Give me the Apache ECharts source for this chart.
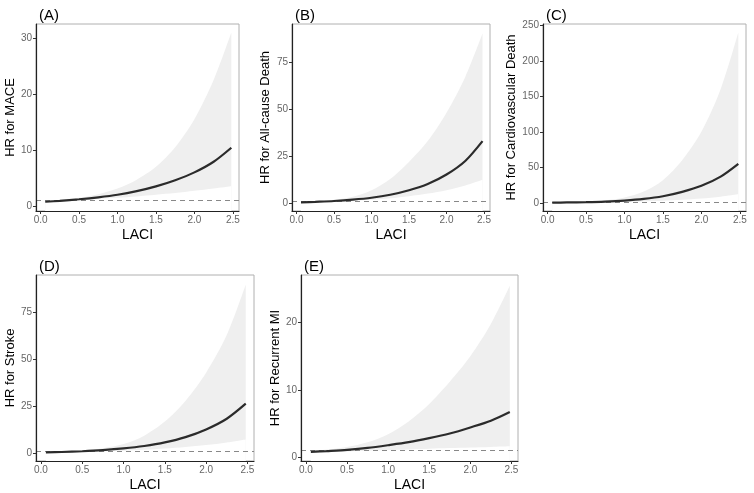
<!DOCTYPE html>
<html>
<head>
<meta charset="utf-8">
<script src="https://cdn.jsdelivr.net/npm/echarts@6/dist/echarts.min.js"></script>
<style>
  html, body { margin: 0; padding: 0; background: #fff; }
  #main { width: 754px; height: 493px; }
</style>
</head>
<body>
<div id="main"></div>
<script>
var laci = [0.06, 0.25, 0.5, 0.75, 1.0, 1.25, 1.5, 1.75, 2.0, 2.25, 2.48];
var xTicks = [0, 0.5, 1.0, 1.5, 2.0, 2.5];

// (A) MACE
var maceHR    = [0.75, 0.92, 1.2, 1.55, 2.0, 2.65, 3.5, 4.6, 6.0, 7.9, 10.4];
var maceLower = [0.6, 0.78, 1.02, 1.25, 1.45, 1.7, 2.0, 2.3, 2.7, 3.1, 3.5];
var maceUpper = [0.95, 1.1, 1.45, 2.1, 3.1, 4.7, 7.0, 10.5, 15.5, 22.5, 31];
var maceTicks = [0, 10, 20, 30];

// (B) All-cause death
var deathHR    = [0.55, 0.85, 1.3, 2.0, 3.0, 4.6, 7.0, 10.3, 15.3, 22.5, 33];
var deathLower = [0.35, 0.55, 0.9, 1.3, 1.9, 2.7, 3.8, 5.2, 7.0, 9.5, 12.5];
var deathUpper = [0.8, 1.2, 1.9, 3.5, 7, 13, 22, 33, 48, 67, 90];
var deathTicks = [0, 25, 50, 75];

// (C) Cardiovascular death
var cvHR    = [0.3, 0.55, 1.0, 1.8, 3.2, 5.5, 9.3, 15.5, 24, 37, 55];
var cvLower = [0.15, 0.3, 0.55, 0.9, 1.4, 2.1, 3.0, 4.4, 6.2, 8.7, 12];
var cvUpper = [0.6, 1.0, 1.8, 3.5, 7.5, 16, 32, 60, 100, 160, 240];
var cvTicks = [0, 50, 100, 150, 200, 250];

// (D) Stroke
var strokeHR    = [0.55, 0.8, 1.2, 1.8, 2.7, 4.0, 5.9, 8.7, 12.8, 18.5, 26.5];
var strokeLower = [0.38, 0.55, 0.85, 1.15, 1.5, 2.0, 2.7, 3.5, 4.5, 5.9, 7.5];
var strokeUpper = [0.8, 1.15, 1.7, 2.8, 5.0, 9.5, 17, 28, 43, 63, 90];
var strokeTicks = [0, 25, 50, 75];

// (E) Recurrent MI
var miHR    = [0.75, 0.88, 1.07, 1.35, 1.75, 2.2, 2.8, 3.5, 4.4, 5.4, 6.7];
var miLower = [0.62, 0.72, 0.82, 0.92, 1.02, 1.12, 1.22, 1.32, 1.4, 1.5, 1.6];
var miUpper = [0.9, 1.1, 1.5, 2.2, 3.4, 5.3, 7.9, 11.2, 15, 19.8, 25.5];
var miTicks = [0, 10, 20];

var panels = [
  { tag: '(A)', name: 'HR for MACE', hr: maceHR, lo: maceLower, hi: maceUpper, ticks: maceTicks,
    ymin: -0.9, ymax: 32.5, left: 36, top: 24, width: 203, gap: 10 },
  { tag: '(B)', name: 'HR for All-cause Death', hr: deathHR, lo: deathLower, hi: deathUpper, ticks: deathTicks,
    ymin: -4, ymax: 95, left: 292, top: 24, width: 198, gap: 20 },
  { tag: '(C)', name: 'HR for Cardiovascular Death', hr: cvHR, lo: cvLower, hi: cvUpper, ticks: cvTicks,
    ymin: -11.5, ymax: 252, left: 543, top: 24, width: 203, gap: 18 },
  { tag: '(D)', name: 'HR for Stroke', hr: strokeHR, lo: strokeLower, hi: strokeUpper, ticks: strokeTicks,
    ymin: -4, ymax: 95, left: 36, top: 275, width: 218, gap: 10 },
  { tag: '(E)', name: 'HR for Recurrent MI', hr: miHR, lo: miLower, hi: miUpper, ticks: miTicks,
    ymin: -0.6, ymax: 27.1, left: 301, top: 275, width: 217, gap: 13 }
];

var myChart = echarts.init(document.getElementById('main'));

var grids = [], xAxes = [], yAxes = [], series = [], titles = [];

panels.forEach(function(p, i) {
  grids.push({
    left: p.left, top: p.top, width: p.width, height: 187,
    show: true, borderColor: '#b0b0b0', borderWidth: 1, backgroundColor: '#fff'
  });
  titles.push({
    text: p.tag, left: p.left - 2, top: p.top - 21,
    textStyle: { fontFamily: 'Liberation Sans', fontSize: 15, fontWeight: 'normal', color: '#000' }
  });
  xAxes.push({
    gridIndex: i, type: 'value', min: -0.06, max: 2.58, z: 10,
    name: 'LACI', nameLocation: 'middle', nameGap: 17,
    nameTextStyle: { fontFamily: 'Liberation Sans', fontSize: 14, color: '#000' },
    axisLine: { onZero: false, lineStyle: { color: '#222', width: 1.2 } },
    axisTick: { customValues: xTicks, length: 3, lineStyle: { color: '#333' } },
    axisLabel: { customValues: xTicks, margin: 4, fontFamily: 'Liberation Sans', fontSize: 10, color: '#666',
      formatter: function(v) { return v.toFixed(1); } },
    splitLine: { show: false }
  });
  yAxes.push({
    gridIndex: i, type: 'value', min: p.ymin, max: p.ymax, z: 10,
    name: p.name, nameLocation: 'middle', nameGap: p.gap,
    nameTextStyle: { fontFamily: 'Liberation Sans', fontSize: 13, color: '#000' },
    axisLine: { onZero: false, lineStyle: { color: '#222', width: 1.2 } },
    axisTick: { customValues: p.ticks, length: 3, lineStyle: { color: '#333' } },
    axisLabel: { customValues: p.ticks, margin: 4, fontFamily: 'Liberation Sans', fontSize: 10, color: '#666' },
    splitLine: { show: false }
  });

  var upper = laci.map(function(x, k) { return [x, p.hi[k]]; });
  var lower = laci.map(function(x, k) { return [x, p.lo[k]]; });
  var curve = laci.map(function(x, k) { return [x, p.hr[k]]; });

  // grey band down to the axis, then a white fill below the lower limit
  series.push({
    type: 'line', xAxisIndex: i, yAxisIndex: i, data: upper, z: 1,
    symbol: 'none', smooth: 0.3, lineStyle: { opacity: 0 },
    areaStyle: { color: '#efefef', opacity: 1, origin: 'start' }, silent: true
  });
  series.push({
    type: 'line', xAxisIndex: i, yAxisIndex: i, data: lower, z: 2,
    symbol: 'none', smooth: 0.3, lineStyle: { opacity: 0 },
    areaStyle: { color: '#ffffff', opacity: 1, origin: 'start' }, silent: true
  });
  series.push({
    type: 'line', xAxisIndex: i, yAxisIndex: i, data: curve,
    symbol: 'none', smooth: 0.3, z: 5,
    lineStyle: { color: '#2b2b2b', width: 2.2 },
    markLine: {
      silent: true, symbol: 'none', label: { show: false },
      lineStyle: { type: [5, 4], color: '#888888', width: 1 },
      data: [{ yAxis: 1 }]
    }
  });
});

var option = {
  animation: false,
  title: titles,
  grid: grids,
  xAxis: xAxes,
  yAxis: yAxes,
  series: series
};
myChart.setOption(option);
</script>
</body>
</html>
